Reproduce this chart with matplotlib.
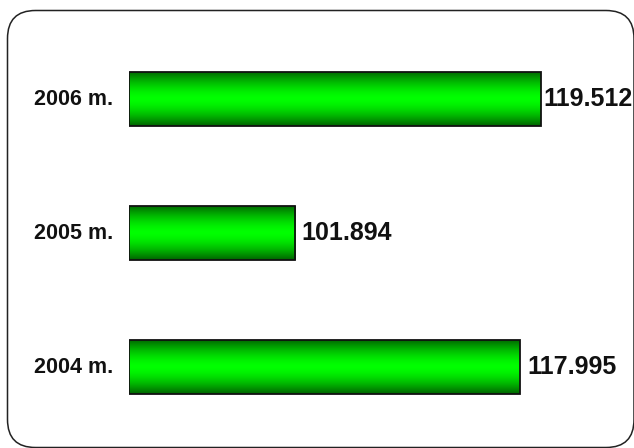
import matplotlib.pyplot as plt
import numpy as np
from matplotlib.patches import FancyBboxPatch

plt.rcParams['font.family'] = ['Liberation Sans', 'DejaVu Sans']

# data
years = ["2004 m.", "2005 m.", "2006 m."]
values = [117.995, 101.894, 119.512]
value_labels = ["117.995", "101.894", "119.512"]
label_pad = [8, 6, 2]  # px gap between bar end and value text

W, H, DPI = 634, 448, 100
X_START = 90

fig = plt.figure(figsize=(W / DPI, H / DPI), dpi=DPI)
fig.patch.set_facecolor("white")

# rounded frame, in inches so the corners stay round
frame = FancyBboxPatch((0.075, 0.005), 6.265, 4.37,
                       boxstyle="round,pad=0,rounding_size=0.28",
                       transform=fig.dpi_scale_trans,
                       facecolor="none", edgecolor="#222222", linewidth=1.1)
fig.patches.append(frame)

ax = fig.add_axes([129 / W, 18 / H, 491 / W, 400 / H])
ax.set_facecolor("none")

y = np.arange(len(years))
bars = ax.barh(y, np.array(values) - X_START, left=X_START, height=0.41,
               color="none", edgecolor="#111111", linewidth=1.3, zorder=3)

# vertical green gradient (dark edges, bright centre)
t = np.linspace(-1, 1, 256)
g = 1 - np.abs(t) ** 1.6
grad = np.zeros((256, 1, 3))
grad[:, 0, 1] = 0.38 + 0.62 * g
for b in bars:
    x0, y0 = b.get_x(), b.get_y()
    im = ax.imshow(grad, extent=(x0, x0 + b.get_width(), y0, y0 + b.get_height()),
                   aspect="auto", origin="lower", zorder=2, interpolation="bicubic")
    im.set_clip_path(b)

for i, b in enumerate(bars):
    yc = b.get_y() + b.get_height() / 2
    ax.annotate(value_labels[i], (b.get_x() + b.get_width(), yc),
                xytext=(label_pad[i], 0), textcoords="offset pixels",
                ha="left", va="center", fontsize=18, fontweight="bold",
                color="#111111", annotation_clip=False)
    ax.annotate(years[i], (X_START, yc),
                xytext=(-16, 0), textcoords="offset pixels",
                ha="right", va="center", fontsize=15.5, fontweight="bold",
                color="#111111", annotation_clip=False)

ax.set_xlim(X_START, X_START + 491 / 13.96)
ax.set_ylim(-0.47, -0.47 + 400 / 134)
ax.axis("off")

fig.savefig("out.png", dpi=DPI)
